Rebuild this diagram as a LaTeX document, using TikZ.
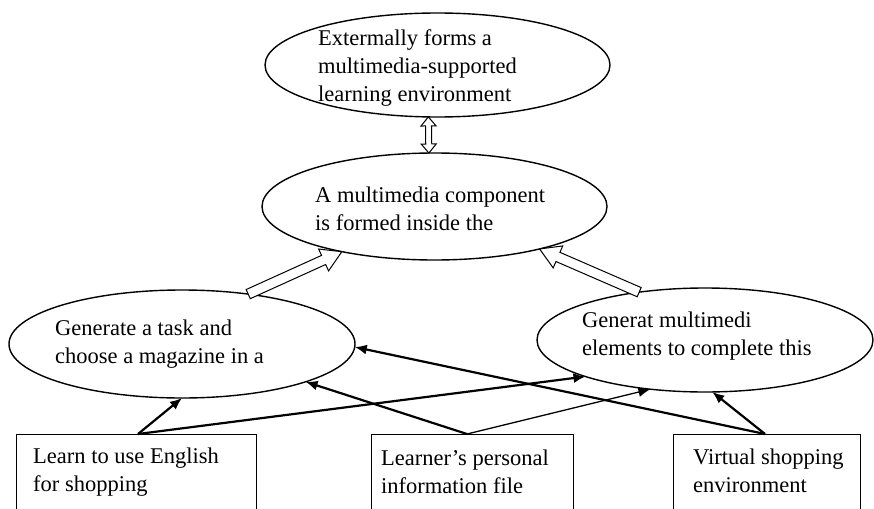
\documentclass[tikz,border=0pt]{standalone}
\usepackage{fontspec}
\setmainfont{Liberation Serif}
\usetikzlibrary{calc,arrows.meta,shapes.geometric}
\begin{document}
\begin{tikzpicture}[x=1pt,y=-1pt,
  ell/.style={draw, ellipse, line width=1.4pt, inner sep=0pt, outer sep=0pt},
  boxnode/.style={draw, rectangle, line width=1pt, inner sep=0pt, outer sep=0pt},
  lbl/.style={font=\fontsize{22.5pt}{28pt}\selectfont, align=left, anchor=base west, inner sep=0pt},
  conn/.style={line width=2.2pt, -{Latex[length=12pt,width=10pt]}},
  connthin/.style={line width=1.3pt, -{Latex[length=12pt,width=10pt]}},
  hollow/.style={draw, line width=1pt, fill=white, line join=miter}]
\useasboundingbox (0,0) rectangle (874,508);
\fill[white] (0,0) rectangle (874,508);
\clip (0,0) rectangle (874,508);

% ellipses
\node[ell, minimum width=345pt, minimum height=104pt] (T) at (437.5,65) {};
\node[ell, minimum width=345pt, minimum height=107pt] (M) at (434.5,206.5) {};
\node[ell, minimum width=346pt, minimum height=108pt] (L) at (182,344) {};
\node[ell, minimum width=336pt, minimum height=104pt] (R) at (705,340) {};

% boxes (cut by the lower edge)
\node[boxnode, minimum width=240pt, minimum height=96pt] (B1) at (136,482) {};
\node[boxnode, minimum width=202pt, minimum height=96pt] (B2) at (472,482) {};
\node[boxnode, minimum width=187pt, minimum height=96pt] (B3) at (766.5,482) {};

% labels (anchored at the baseline of the last line)
\node[lbl] (tT) at (318,102) {Extermally forms a\\multimedia-supported\\learning environment};
\node[lbl] (tM) at (315,230) {A multimedia component\\is formed inside the};
\node[lbl] (tL) at (55,363) {Generate a task and\\choose a magazine in a};
\node[lbl] (tR) at (582,355) {Generat multimedi\\elements to complete this};
\node[lbl] (tB1) at (33,491) {Learn to use English\\for shopping};
\node[lbl] (tB2) at (381,493) {Learner’s personal\\information file};
\node[lbl] (tB3) at (693,492) {Virtual shopping\\environment};

% hollow arrows
\draw[hollow] let \p1=(L.37), \p2=(M.-154), \n1={atan2(\y2-\y1,\x2-\x1)}, \n2={veclen(\x2-\x1,\y2-\y1)} in
  [shift={(\p1)}, rotate=\n1] (0pt,-5pt) -- ({\n2-20pt},-5pt) -- ({\n2-20pt},-12pt) -- (\n2,0pt) -- ({\n2-20pt},12pt) -- ({\n2-20pt},5pt) -- (0pt,5pt) -- cycle;
\draw[hollow] let \p1=(R.144), \p2=(M.-22), \n1={atan2(\y2-\y1,\x2-\x1)}, \n2={veclen(\x2-\x1,\y2-\y1)} in
  [shift={(\p1)}, rotate=\n1] (0pt,-5pt) -- ({\n2-20pt},-5pt) -- ({\n2-20pt},-12pt) -- (\n2,0pt) -- ({\n2-20pt},12pt) -- ({\n2-20pt},5pt) -- (0pt,5pt) -- cycle;
\draw[hollow] let \p1=(M.96), \p2=(T.-100), \n1={atan2(\y2-\y1,\x2-\x1)}, \n2={veclen(\x2-\x1,\y2-\y1)} in
  [shift={(\p1)}, rotate=\n1] (0pt,0pt) -- (9pt,7.5pt) -- (9pt,3pt) -- ({\n2-9pt},3pt) -- ({\n2-9pt},7.5pt) -- (\n2,0pt) -- ({\n2-9pt},-7.5pt) -- ({\n2-9pt},-3pt) -- (9pt,-3pt) -- (9pt,-7.5pt) -- cycle;

% connectors
\draw[conn] ([xshift=2pt]B1.north) -- (L.-90);
\draw[conn] ([xshift=2pt]B1.north) -- (R.-163);
\draw[conn] ([xshift=-5pt]B2.north) -- (L.-17);
\draw[connthin] ([xshift=-5pt]B2.north) -- (R.-138);
\draw[conn] ([xshift=-1.5pt]B3.north) -- (L.-1);
\draw[conn] ([xshift=-1.5pt]B3.north) -- (R.-82);
\end{tikzpicture}
\end{document}
